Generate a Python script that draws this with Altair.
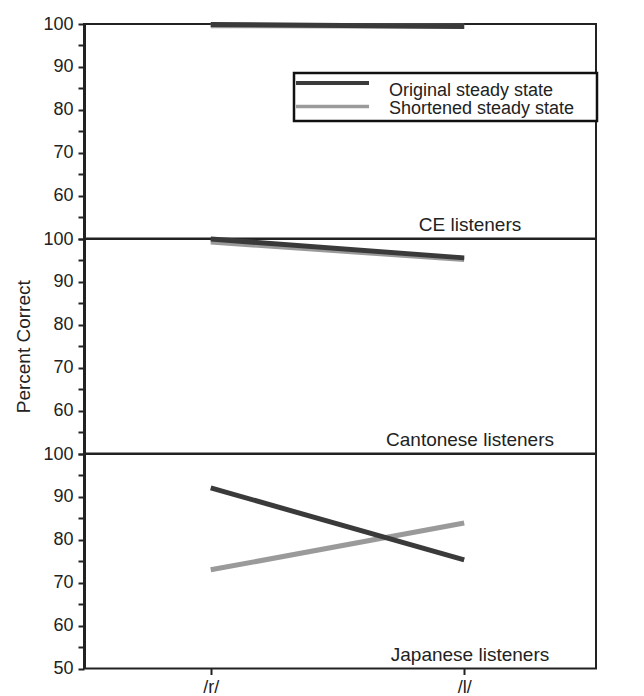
import altair as alt
import pandas as pd

# ---- data ----
phonemes = ["/r/", "/l/"]
phoneme_pos = [1, 2]
panels = ["CE listeners", "Cantonese listeners", "Japanese listeners"]
series = ["Original steady state", "Shortened steady state"]
series_colors = ["#3a3a3a", "#9a9a9a"]

ce_original = [99.9, 99.4]
ce_shortened = [99.6, 99.5]
cantonese_original = [100.1, 95.6]
cantonese_shortened = [99.3, 95.2]
japanese_original = [92.1, 75.3]
japanese_shortened = [73.0, 83.9]

values_by_panel = {
    "CE listeners": (ce_original, ce_shortened),
    "Cantonese listeners": (cantonese_original, cantonese_shortened),
    "Japanese listeners": (japanese_original, japanese_shortened),
}

FONT = "Liberation Sans"
W, H = 512, 214.5

def panel_df(name):
    rows = []
    for s, vals in zip(series, values_by_panel[name]):
        for ph, pos, v in zip(phonemes, phoneme_pos, vals):
            rows.append({"panel": name, "series": s, "phoneme": ph, "pos": pos, "value": v})
    return pd.DataFrame(rows)

color_scale = alt.Scale(domain=series, range=series_colors)


def make_panel(idx, name):
    df = panel_df(name)
    bottom = idx == len(panels) - 1
    show_50 = "true" if bottom else "false"
    y_axis = alt.Axis(
        values=list(range(50, 101, 5)),
        labelExpr=f"(datum.value % 10 == 0 && (datum.value > 50 || {show_50})) ? datum.label : ''",
        title="Percent Correct" if idx == 1 else None,
        titleFontSize=19, titleFontWeight="normal", titlePadding=9, titleColor="#222",
        labelFontSize=18, labelColor="#222", labelPadding=5,
        tickSize=6, tickWidth=2, tickColor="#222",
        domainWidth=3, domainColor="#222", grid=False,
    )
    if bottom:
        x_axis = alt.Axis(
            values=phoneme_pos,
            labelExpr="datum.value == 1 ? '/r/' : '/l/'",
            title=None, labelFontSize=18, labelColor="#222",
            tickSize=6, tickWidth=2, tickColor="#222", domain=False, grid=False,
            labelPadding=4,
        )
    else:
        x_axis = None
    base = alt.Chart(df).encode(
        x=alt.X("pos:Q", scale=alt.Scale(domain=[0.5, 2.52], nice=False, zero=False), axis=x_axis),
        y=alt.Y("value:Q", scale=alt.Scale(domain=[50, 100], nice=False, zero=False, clamp=True), axis=y_axis),
        color=alt.Color("series:N", scale=color_scale, legend=None),
        order=alt.Order("pos:Q"),
    )
    lines_short = base.transform_filter(alt.datum.series == series[1]).mark_line(strokeWidth=5, strokeCap="butt")
    lines_orig = base.transform_filter(alt.datum.series == series[0]).mark_line(strokeWidth=5, strokeCap="butt")

    label = alt.Chart(pd.DataFrame({"panel": [name]})).mark_text(
        font=FONT, fontSize=19, color="#222", align="center", baseline="alphabetic"
    ).encode(text="panel:N", x=alt.value(386), y=alt.value(207))

    layers = [lines_short, lines_orig, label]

    if idx == 0:
        box = alt.Chart(pd.DataFrame({"k": [0]})).mark_rect(
            fill="white", stroke="#111", strokeWidth=2.5
        ).encode(x=alt.value(210), x2=alt.value(513), y=alt.value(49), y2=alt.value(97))
        layers.append(box)
        line_y = [59, 82.5]
        text_y = [71.5, 90]
        widths = [4, 3.5]
        for s, c, ly, ty, w in zip(series, series_colors, line_y, text_y, widths):
            sdf = pd.DataFrame({"series": [s]})
            layers.append(
                alt.Chart(sdf).mark_rule(strokeWidth=w, color=c).encode(
                    x=alt.value(212), x2=alt.value(285), y=alt.value(ly)
                )
            )
            layers.append(
                alt.Chart(sdf).mark_text(
                    font=FONT, fontSize=18, color="#222", align="left", baseline="alphabetic"
                ).encode(text="series:N", x=alt.value(305), y=alt.value(ty))
            )

    return alt.layer(*layers).properties(width=W, height=H)


chart = alt.vconcat(
    *[make_panel(i, p) for i, p in enumerate(panels)], spacing=0, bounds="flush"
).properties(
    padding={"left": 5, "top": 5, "right": 5, "bottom": 5}
).configure(
    font=FONT
).configure_view(
    stroke="#222", strokeWidth=2
)

chart.save("out.html", embed_options={"renderer": "svg", "actions": False})
